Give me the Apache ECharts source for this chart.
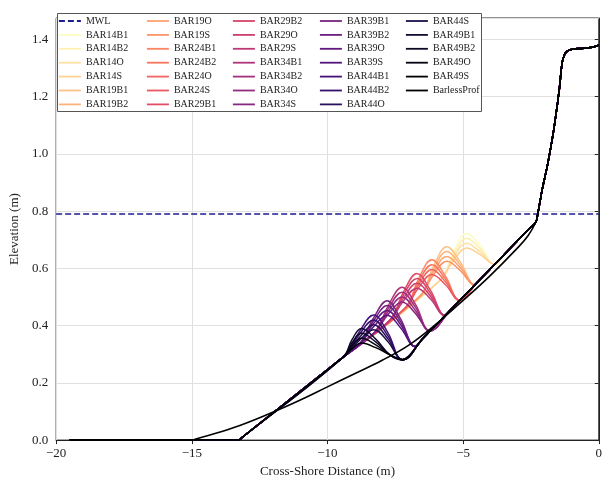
<!DOCTYPE html>
<html>
<head>
<meta charset="utf-8">
<script src="https://cdn.jsdelivr.net/npm/echarts@6/dist/echarts.min.js"></script>
<style>
    html, body { margin: 0; padding: 0; background: #fff; }
    #chart { width: 605px; height: 483px; }
</style>
</head>
<body>
<div id="chart"></div>
<script>
    // ---- data (x: cross-shore m, y: elevation m) ----
    var mwlLevel = 0.79;

    // flat offshore part + offshore slope shared by all barred profiles
    var barHead = [[-19.5, 0], [-13.27, 0], [-13.15, 0.009], [-9.42, 0.29]];
    // onshore slope behind the bars (trough -> toe of cliff)
    var onshore = [[-7.24, 0.281], [-6.5, 0.353], [-5.5, 0.451], [-4.5, 0.549], [-3.5, 0.647], [-2.6, 0.735], [-2.32, 0.762]];
    // cliff / dune face, shared by every profile
    var cliff = [[-2.25, 0.79], [-2.07, 0.882], [-1.89, 0.961], [-1.71, 1.054], [-1.6, 1.122], [-1.455, 1.225],
        [-1.35, 1.318], [-1.27, 1.345], [-1.16, 1.359], [-0.98, 1.366], [-0.55, 1.369], [-0.25, 1.373], [0, 1.38]];
    var barless = [[-19.5, 0], [-15, 0], [-14.85, 0.004], [-13.5, 0.042], [-12, 0.098], [-11, 0.14], [-10, 0.186],
        [-9, 0.232], [-8, 0.278], [-7, 0.332], [-6, 0.405], [-5, 0.488], [-4, 0.575], [-3, 0.671], [-2.6, 0.715], [-2.32, 0.762]];

    var barNames = [
        "BAR14B1", "BAR14B2", "BAR14O", "BAR14S",
        "BAR19B1", "BAR19B2", "BAR19O", "BAR19S",
        "BAR24B1", "BAR24B2", "BAR24O", "BAR24S",
        "BAR29B1", "BAR29B2", "BAR29O", "BAR29S",
        "BAR34B1", "BAR34B2", "BAR34O", "BAR34S",
        "BAR39B1", "BAR39B2", "BAR39O", "BAR39S",
        "BAR44B1", "BAR44B2", "BAR44O", "BAR44S",
        "BAR49B1", "BAR49B2", "BAR49O", "BAR49S"
    ];

    // bar shapes (left foot, left flank, crest, right flank, right foot)
    var barBumps = [
        [[-5.87, 0.556], [-5.37, 0.656], [-4.87, 0.722], [-4.37, 0.679], [-3.84, 0.614]],
        [[-5.87, 0.556], [-5.37, 0.645], [-4.87, 0.705], [-4.37, 0.669], [-3.84, 0.614]],
        [[-5.87, 0.556], [-5.37, 0.635], [-4.87, 0.688], [-4.37, 0.658], [-3.84, 0.614]],
        [[-5.87, 0.556], [-5.37, 0.625], [-4.87, 0.671], [-4.37, 0.648], [-3.84, 0.614]],

        [[-6.6, 0.502], [-6.1, 0.606], [-5.6, 0.676], [-5.1, 0.622], [-4.57, 0.542]],
        [[-6.6, 0.502], [-6.1, 0.596], [-5.6, 0.659], [-5.1, 0.612], [-4.57, 0.542]],
        [[-6.6, 0.502], [-6.1, 0.586], [-5.6, 0.642], [-5.1, 0.602], [-4.57, 0.542]],
        [[-6.6, 0.502], [-6.1, 0.576], [-5.6, 0.625], [-5.1, 0.592], [-4.57, 0.542]],

        [[-7.15, 0.46], [-6.65, 0.562], [-6.15, 0.63], [-5.65, 0.573], [-5.12, 0.488]],
        [[-7.15, 0.46], [-6.65, 0.552], [-6.15, 0.613], [-5.65, 0.563], [-5.12, 0.488]],
        [[-7.15, 0.46], [-6.65, 0.542], [-6.15, 0.596], [-5.65, 0.553], [-5.12, 0.488]],
        [[-7.15, 0.46], [-6.65, 0.531], [-6.15, 0.579], [-5.65, 0.543], [-5.12, 0.488]],

        [[-7.7, 0.419], [-7.2, 0.517], [-6.7, 0.582], [-6.2, 0.523], [-5.67, 0.435]],
        [[-7.7, 0.419], [-7.2, 0.507], [-6.7, 0.565], [-6.2, 0.513], [-5.67, 0.435]],
        [[-7.7, 0.419], [-7.2, 0.496], [-6.7, 0.548], [-6.2, 0.503], [-5.67, 0.435]],
        [[-7.7, 0.419], [-7.2, 0.486], [-6.7, 0.531], [-6.2, 0.493], [-5.67, 0.435]],

        [[-8.25, 0.378], [-7.75, 0.472], [-7.25, 0.534], [-6.75, 0.473], [-6.22, 0.381]],
        [[-8.25, 0.378], [-7.75, 0.461], [-7.25, 0.517], [-6.75, 0.463], [-6.22, 0.381]],
        [[-8.25, 0.378], [-7.75, 0.451], [-7.25, 0.5], [-6.75, 0.452], [-6.22, 0.381]],
        [[-8.25, 0.378], [-7.75, 0.441], [-7.25, 0.483], [-6.75, 0.442], [-6.22, 0.381]],

        [[-8.8, 0.337], [-8.3, 0.427], [-7.8, 0.487], [-7.3, 0.423], [-6.77, 0.327]],
        [[-8.8, 0.337], [-8.3, 0.417], [-7.8, 0.47], [-7.3, 0.413], [-6.77, 0.327]],
        [[-8.8, 0.337], [-8.3, 0.407], [-7.8, 0.453], [-7.3, 0.403], [-6.77, 0.327]],
        [[-8.8, 0.337], [-8.3, 0.396], [-7.8, 0.436], [-7.3, 0.392], [-6.77, 0.327]],

        [[-9.3, 0.299], [-8.8, 0.382], [-8.3, 0.437], [-7.77, 0.375], [-7.24, 0.281]],
        [[-9.3, 0.299], [-8.8, 0.372], [-8.3, 0.42], [-7.77, 0.364], [-7.24, 0.281]],
        [[-9.3, 0.299], [-8.8, 0.361], [-8.3, 0.403], [-7.77, 0.354], [-7.24, 0.281]],
        [[-9.3, 0.299], [-8.8, 0.351], [-8.3, 0.386], [-7.77, 0.344], [-7.24, 0.281]],

        [[-9.1, 0.35], [-8.75, 0.39], [-8.22, 0.353], [-7.7, 0.298]],
        [[-9.1, 0.34], [-8.75, 0.373], [-8.22, 0.343], [-7.7, 0.298]],
        [[-9.1, 0.33], [-8.75, 0.356], [-8.22, 0.333], [-7.7, 0.298]],
        [[-9.1, 0.319], [-8.75, 0.339], [-8.22, 0.323], [-7.7, 0.298]]
    ];

    var xTicks = [-20, -15, -10, -5, 0];
    var yTicks = [0, 0.2, 0.4, 0.6, 0.8, 1.0, 1.2, 1.4];

    // ---- styling helpers ----
    var FONT = "'Liberation Serif', 'Times New Roman', serif";
    var magmaStops = ['#000004', '#07061c', '#140e36', '#251255', '#3b0f70', '#51127c', '#641a80', '#782281',
        '#8c2981', '#a1307e', '#b73779', '#cc3f71', '#de4968', '#ec5860', '#f7705c', '#fc8961', '#fe9f6d',
        '#feb77e', '#fecf92', '#fde7a9', '#fcfdbf'];

    function hexRgb(h) {
        return [parseInt(h.substr(1, 2), 16), parseInt(h.substr(3, 2), 16), parseInt(h.substr(5, 2), 16)];
    }
    function magma(t) {
        var p = t * (magmaStops.length - 1);
        var i = Math.min(magmaStops.length - 2, Math.floor(p));
        var f = p - i;
        var a = hexRgb(magmaStops[i]), b = hexRgb(magmaStops[i + 1]);
        return 'rgb(' + [0, 1, 2].map(function (k) { return Math.round(a[k] + (b[k] - a[k]) * f); }).join(',') + ')';
    }

    function barProfile(bump) {
        var last = bump[bump.length - 1][0];
        return barHead.concat(bump, onshore.filter(function (p) { return p[0] > last; }), cliff);
    }

    var series = [{
        name: "MWL",
        type: "line",
        symbol: "none",
        data: [[xTicks[0], mwlLevel], [xTicks[xTicks.length - 1], mwlLevel]],
        lineStyle: { color: "#1c1c8e", width: 1.6, type: [6, 3] },
        itemStyle: { color: "#1c1c8e" }
    }];

    barNames.forEach(function (name, i) {
        var c = magma(1 - i / (barNames.length - 1));
        series.push({
            name: name,
            type: "line",
            symbol: "none",
            smooth: 0.4,
            data: barProfile(barBumps[i]),
            lineStyle: { color: c, width: 1.5 },
            itemStyle: { color: c }
        });
    });

    series.push({
        name: "BarlessProf",
        type: "line",
        symbol: "none",
        smooth: 0.4,
        data: barless.concat(cliff),
        lineStyle: { color: "#000", width: 1.6 },
        itemStyle: { color: "#000" }
    });

    var allNames = ["MWL"].concat(barNames, ["BarlessProf"]);
    var colLeft = [58, 146, 232, 319, 405];
    var legends = colLeft.map(function (left, k) {
        return {
            data: allNames.slice(k * 7, k * 7 + 7),
            orient: "vertical",
            left: left,
            top: 16,
            padding: 0,
            itemWidth: 22,
            itemHeight: 10,
            itemGap: 3.9,
            selectedMode: false,
            z: 10,
            itemStyle: { opacity: 0 },
            lineStyle: { width: 1.8 },
            textStyle: { fontFamily: FONT, fontSize: 10, color: "#222", lineHeight: 10 }
        };
    });

    var chart = echarts.init(document.getElementById("chart"));
    var option = {
        animation: false,
        backgroundColor: "#fff",
        grid: {
            left: 52, right: 3, top: 18, bottom: 36,
            show: true, borderColor: "#222", borderWidth: 1
        },
        legend: legends,
        graphic: [{
            type: "rect",
            z: 5,
            shape: { x: 57.5, y: 13.5, width: 424, height: 98 },
            style: { fill: "#fff", stroke: "#555", lineWidth: 1 }
        }],
        xAxis: {
            type: "value",
            min: xTicks[0],
            max: xTicks[xTicks.length - 1],
            interval: 5,
            name: "Cross-Shore Distance (m)",
            nameLocation: "middle",
            nameGap: 22,
            nameTextStyle: { fontFamily: FONT, fontSize: 13, color: "#222" },
            axisLine: { show: true, lineStyle: { color: "#222" } },
            axisTick: { show: true, length: 4, lineStyle: { color: "#222" } },
            axisLabel: {
                fontFamily: FONT, fontSize: 13, color: "#222", margin: 7,
                formatter: function (v) { return String(v).replace("-", "\u2212"); }
            },
            splitLine: { show: true, lineStyle: { color: "#e0e0e0" } }
        },
        yAxis: {
            type: "value",
            min: 0,
            max: 1.475,
            interval: 0.2,
            name: "Elevation (m)",
            nameLocation: "middle",
            nameGap: 23,
            nameTextStyle: { fontFamily: FONT, fontSize: 13, color: "#222" },
            axisLine: { show: true, lineStyle: { color: "#222" } },
            axisTick: { show: true, length: 4, lineStyle: { color: "#222" } },
            axisLabel: {
                fontFamily: FONT, fontSize: 13, color: "#222", margin: 8, showMaxLabel: false,
                formatter: function (v) { return yTicks.indexOf(Math.round(v * 10) / 10) >= 0 ? v.toFixed(1) : ""; }
            },
            splitLine: { show: true, lineStyle: { color: "#e0e0e0" } }
        },
        series: series
    };
    chart.setOption(option);
</script>
</body>
</html>
